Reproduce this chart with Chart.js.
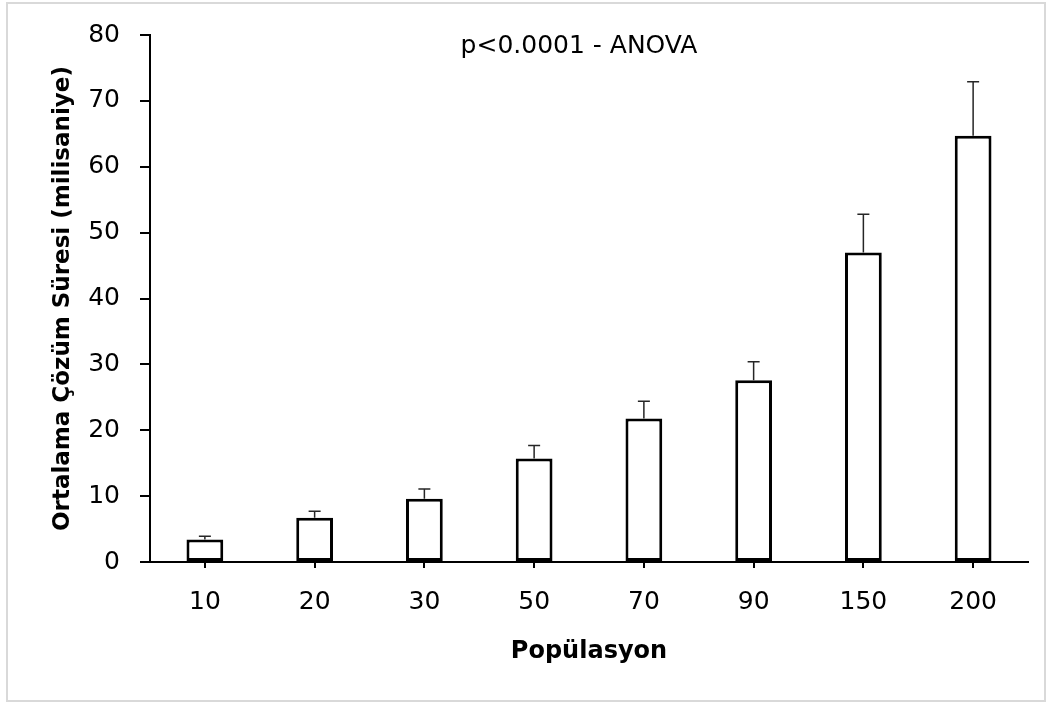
<!DOCTYPE html>
<html>
<head>
<meta charset="utf-8">
<script src="https://cdn.jsdelivr.net/npm/chart.js@4"></script>
<style>
  html, body { margin: 0; padding: 0; background: #fff; }
  #wrap { position: relative; width: 1052px; height: 702px; }
  #frame { position: absolute; left: 6px; top: 2px; width: 1040px; height: 700px;
           border: 2px solid #d9d9d9; box-sizing: border-box; pointer-events: none; }
</style>
</head>
<body>
<div id="wrap">
  <canvas id="chart" width="1052" height="702"></canvas>
  <div id="frame"></div>
</div>
<script>
const populations = ['10', '20', '30', '50', '70', '90', '150', '200'];
const meanTimes = [3.4, 6.7, 9.6, 15.7, 21.8, 27.6, 47.0, 64.7];
const errors = [0.5, 1.0, 1.5, 2.0, 2.6, 2.8, 5.8, 8.2];
const yMin = 0;
const yMax = 80;
const yStep = 10;
const annotation = 'p<0.0001 - ANOVA';

// upper error bars + the ANOVA note
const errorBars = {
  id: 'errorBars',
  afterDatasetsDraw(chart) {
    const ctx = chart.ctx;
    const y = chart.scales.y;
    const meta = chart.getDatasetMeta(0);
    ctx.save();
    ctx.strokeStyle = '#262626';
    ctx.lineWidth = 1.5;
    meta.data.forEach((bar, i) => {
      const top = y.getPixelForValue(meanTimes[i] + errors[i]);
      ctx.beginPath();
      ctx.moveTo(bar.x, bar.y);
      ctx.lineTo(bar.x, top);
      ctx.moveTo(bar.x - 6, top);
      ctx.lineTo(bar.x + 6, top);
      ctx.stroke();
    });
    const area = chart.chartArea;
    ctx.fillStyle = '#000';
    ctx.font = '25px "DejaVu Sans"';
    ctx.textAlign = 'center';
    ctx.textBaseline = 'alphabetic';
    ctx.fillText(annotation, (area.left + area.right) / 2 - 10, area.top + 18);
    ctx.restore();
  }
};

new Chart(document.getElementById('chart'), {
  type: 'bar',
  data: {
    labels: populations,
    datasets: [{
      data: meanTimes,
      backgroundColor: '#ffffff',
      borderColor: '#000000',
      borderWidth: 3,
      borderSkipped: false,
      categoryPercentage: 1,
      barPercentage: 0.335
    }]
  },
  options: {
    responsive: false,
    animation: false,
    layout: { padding: { top: 35, right: 24, left: 0, bottom: 0 } },
    plugins: {
      legend: { display: false },
      tooltip: { enabled: false }
    },
    scales: {
      x: {
        afterFit: (scale) => { scale.height = 140; },
        grid: {
          offset: false,
          drawOnChartArea: false,
          tickLength: 6,
          color: '#000',
          lineWidth: 2
        },
        border: { color: '#000', width: 2 },
        ticks: {
          color: '#000',
          padding: 19,
          font: { family: 'DejaVu Sans', size: 25 }
        },
        title: {
          display: true,
          text: 'Popülasyon',
          color: '#000',
          font: { family: 'DejaVu Sans', size: 24, weight: 'bold' },
          padding: { top: 0, bottom: 36 }
        }
      },
      y: {
        min: yMin,
        max: yMax,
        afterFit: (scale) => { scale.width = 150; },
        grid: {
          drawOnChartArea: false,
          tickLength: 10,
          color: '#000',
          lineWidth: 2
        },
        border: { color: '#000', width: 2 },
        ticks: {
          stepSize: yStep,
          color: '#000',
          padding: 20,
          font: { family: 'DejaVu Sans', size: 25 }
        },
        title: {
          display: true,
          text: 'Ortalama Çözüm Süresi (milisaniye)',
          color: '#000',
          font: { family: 'DejaVu Sans', size: 23, weight: 'bold' },
          padding: { top: 49, bottom: 0 }
        }
      }
    }
  },
  plugins: [errorBars]
});
</script>
</body>
</html>
